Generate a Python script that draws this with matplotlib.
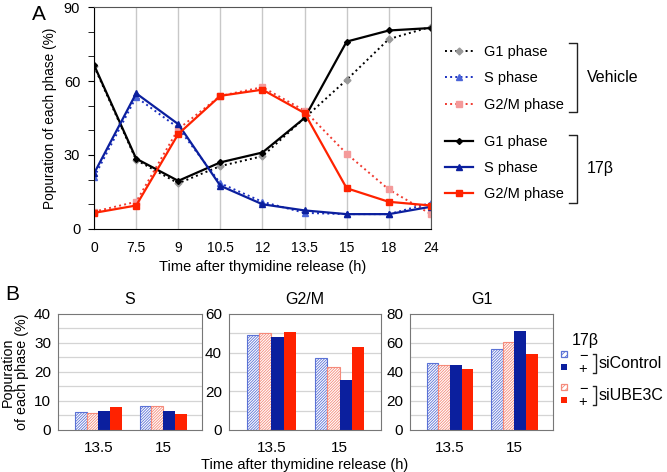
import numpy as np
import matplotlib
matplotlib.use("Agg")
import matplotlib.pyplot as plt
from matplotlib.lines import Line2D
from matplotlib.patches import Rectangle

plt.rcParams['font.family'] = ['Liberation Sans', 'DejaVu Sans']
plt.rcParams['hatch.linewidth'] = 0.6

# Panel A data (% of cells in each phase)
times = ['0', '7.5', '9', '10.5', '12', '13.5', '15', '18', '24']
veh_g1 = [66, 28, 18.5, 25.5, 29.5, 45, 60.5, 77, 82]
veh_s = [21, 53.5, 41, 18.5, 11, 6.5, 6, 6, 10.5]
veh_g2m = [7, 11, 40.5, 54, 57.5, 48, 30.5, 16, 6]
e2_g1 = [66.5, 28.5, 19.5, 27, 31, 45, 76, 80.5, 81.5]
e2_s = [22.5, 55, 42.5, 17.5, 10, 7.5, 6, 6, 9]
e2_g2m = [6.5, 9.5, 38.5, 54, 56.5, 47, 16.5, 11, 9.5]

# Panel B data: order = siControl -, siUBE3C -, siControl +, siUBE3C +
groups = ['13.5', '15']
panels = ['S', 'G2/M', 'G1']
ctrl_minus = {'S': [6.1, 8.2], 'G2/M': [49.1, 37.2], 'G1': [46, 55.6]}
ube_minus = {'S': [6.0, 8.2], 'G2/M': [50, 32.5], 'G1': [45, 60.5]}
ctrl_plus = {'S': [6.7, 6.6], 'G2/M': [48.3, 25.7], 'G1': [45, 68]}
ube_plus = {'S': [7.8, 5.6], 'G2/M': [50.5, 42.8], 'G1': [41.8, 52.4]}
ylims = {'S': 40, 'G2/M': 60, 'G1': 80}

BLUE = '#0b1f9e'
RED = '#ff2200'
LBLUE = '#5b72d6'
LRED = '#f58a7a'

fig = plt.figure(figsize=(6.67, 4.72), dpi=100)

# ---------------- Panel A ----------------
ax = fig.add_axes([0.141, 0.515, 0.505, 0.470])
x = np.arange(len(times))
for xi in x:
    ax.axvline(xi, color='#c8c8c8', lw=1, zorder=0)

ax.plot(x, veh_g1, ':', color='black', lw=1.4, marker='D', ms=3.5,
        mfc='#999999', mec='#999999', label='G1 phase')
ax.plot(x, veh_s, ':', color='#1a2fc0', lw=1.4, marker='^', ms=5,
        mfc='#4a64d8', mec='#4a64d8', label='S phase')
ax.plot(x, veh_g2m, ':', color='#f03a30', lw=1.4, marker='s', ms=5,
        mfc='#f49a9a', mec='#f49a9a', label='G2/M phase')
ax.plot(x, e2_g1, '-', color='black', lw=1.6, marker='D', ms=3,
        label='G1 phase')
ax.plot(x, e2_s, '-', color=BLUE, lw=1.6, marker='^', ms=5, label='S phase')
ax.plot(x, e2_g2m, '-', color=RED, lw=1.6, marker='s', ms=5,
        label='G2/M phase')

ax.set_xlim(0, len(times) - 1)
ax.set_ylim(0, 90)
ax.set_xticks(x)
ax.set_xticklabels(times, fontsize=10)
ax.tick_params(axis='x', length=0, pad=9)
ax.set_yticks([0, 30, 60, 90])
ax.set_yticks(np.arange(0, 91, 10), minor=True)
ax.tick_params(axis='y', which='both', direction='out', length=4,
               labelsize=10.5, pad=6)
ax.set_xlabel('Time after thymidine release (h)', fontsize=10.5, labelpad=3)
ax.set_ylabel('Popuration of each phase (%)', fontsize=9.8, labelpad=5)
for s in ['top', 'right']:
    ax.spines[s].set_color('#555555')

h, l = ax.get_legend_handles_labels()
leg_kw = dict(loc='upper left', frameon=False, fontsize=10.5,
              handlelength=1.9, labelspacing=0.84, handletextpad=0.8,
              borderaxespad=0, borderpad=0)
leg1 = ax.legend(h[:3], l[:3], bbox_to_anchor=(1.042, 0.828), **leg_kw)
ax.add_artist(leg1)
ax.legend(h[3:], l[3:], bbox_to_anchor=(1.042, 0.425), **leg_kw)


def bracket(x0, y0, y1, w=8):
    # square bracket in pixel coordinates
    xs = [x0 - w, x0, x0, x0 - w]
    ys = [y0, y0, y1, y1]
    fig.add_artist(Line2D([v / 667 for v in xs], [1 - v / 472 for v in ys],
                          color='#222222', lw=1.0))


bracket(577, 43, 112)
bracket(577, 135, 203)
fig.text(587 / 667, 1 - 77 / 472, 'Vehicle', fontsize=11.5, va='center')
fig.text(587 / 667, 1 - 168 / 472, '17β', fontsize=11.5, va='center')
fig.text(32 / 667, 1 - 14 / 472, 'A', fontsize=15, va='center')

# ---------------- Panel B ----------------
rects = {'S': [0.087, 0.089, 0.216, 0.246],
         'G2/M': [0.343, 0.089, 0.228, 0.246],
         'G1': [0.615, 0.089, 0.214, 0.246]}
bw = 0.18
gx = np.arange(len(groups))
for name in panels:
    bx = fig.add_axes(rects[name])
    top = ylims[name]
    step = 5 if top == 40 else 10
    for gy in np.arange(step, top, step):
        bx.axhline(gy, color='#d4d4d4', lw=0.9, zorder=0)
    bx.bar(gx - 1.5 * bw, ctrl_minus[name], bw, color='white',
           edgecolor=LBLUE, hatch='////////////', lw=0.8, zorder=2)
    bx.bar(gx - 0.5 * bw, ube_minus[name], bw, color='white',
           edgecolor=LRED, hatch='////////////', lw=0.8, zorder=2)
    bx.bar(gx + 0.5 * bw, ctrl_plus[name], bw, color=BLUE, zorder=2)
    bx.bar(gx + 1.5 * bw, ube_plus[name], bw, color=RED, zorder=2)
    bx.set_xlim(-0.62, 1.6)
    bx.set_ylim(0, top)
    bx.set_yticks(np.arange(0, top + 1, 20 if top != 40 else 10))
    bx.set_xticks(gx)
    bx.set_xticklabels(groups)
    bx.tick_params(length=0, labelsize=11, pad=5)
    bx.tick_params(axis='x', pad=8)
    for s in bx.spines.values():
        s.set_color('#777777')
    bx.set_title(name, fontsize=11.5, pad=7)
    if name == 'S':
        bx.set_ylabel('Popuration\nof each phase (%)', fontsize=10.3,
                      linespacing=1.0, labelpad=4)
    if name == 'G2/M':
        bx.set_xlabel('Time after thymidine release (h)', fontsize=10.5,
                      labelpad=2)

fig.text(5 / 667, 1 - 295 / 472, 'B', fontsize=15, va='center')

# legend for panel B
fig.text(572 / 667, 1 - 340 / 472, '17β', fontsize=11.5, va='center')
legend_rows = [(LBLUE, True, '−', 354), (BLUE, False, '+', 367),
               (LRED, True, '−', 387), (RED, False, '+', 400)]
for col, hatched, sign, yy in legend_rows:
    if hatched:
        p = Rectangle((561 / 667, 1 - (yy + 3) / 472), 6 / 667, 6 / 472,
                      transform=fig.transFigure, facecolor='white',
                      edgecolor=col, hatch='//////', lw=0.9)
    else:
        p = Rectangle((561 / 667, 1 - (yy + 3) / 472), 6 / 667, 6 / 472,
                      transform=fig.transFigure, facecolor=col,
                      edgecolor=col, lw=0)
    fig.add_artist(p)
    fig.text(583 / 667, 1 - (yy + 2) / 472, sign, fontsize=10.5,
             ha='center', va='center')
for y0, y1, lab in [(354, 373, 'siControl'), (386, 405, 'siUBE3C')]:
    xs = [593, 596, 596, 593]
    ys = [y0, y0, y1, y1]
    fig.add_artist(Line2D([v / 667 for v in xs], [1 - v / 472 for v in ys],
                          color='#222222', lw=1.0))
    fig.text(599 / 667, 1 - (y0 + y1) / 2 / 472, lab, fontsize=11.5,
             va='center')

fig.savefig('out.png', dpi=100)
